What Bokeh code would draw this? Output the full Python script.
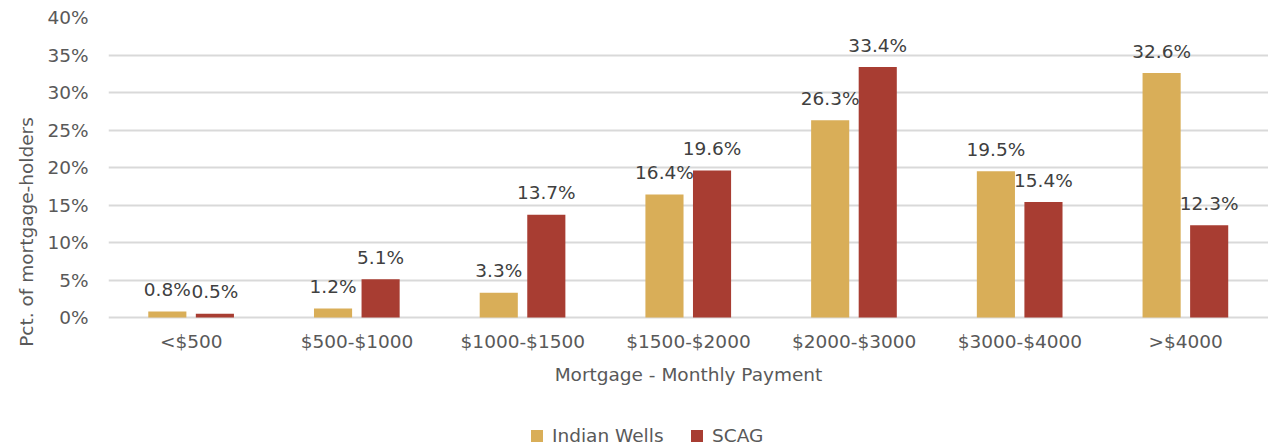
from bokeh.plotting import figure
from bokeh.models import ColumnDataSource, FactorRange, Range1d, FixedTicker, PrintfTickFormatter, Legend, LegendItem, Title
from bokeh.transform import dodge
from bokeh.core.properties import value
from bokeh.embed import file_html
from bokeh.resources import INLINE

categories = ["<$500", "$500-$1000", "$1000-$1500", "$1500-$2000", "$2000-$3000", "$3000-$4000", ">$4000"]
indian_wells = [0.8, 1.2, 3.3, 16.4, 26.3, 19.5, 32.6]
scag = [0.5, 5.1, 13.7, 19.6, 33.4, 15.4, 12.3]
y_ticks = [0, 5, 10, 15, 20, 25, 30, 35, 40]

FONT = "DejaVu Sans"
TXT = "#595959"
GOLD = "#D9AE58"
RED = "#A83D32"

src = ColumnDataSource(dict(
    cat=categories,
    iw=indian_wells,
    sc=scag,
    iw_lab=[f"{v:.1f}%" for v in indian_wells],
    sc_lab=[f"{v:.1f}%" for v in scag],
))

# frame runs to the bottom of the figure; the x axis sits at y=0 inside it
p = figure(width=1268, height=446, output_backend="svg", toolbar_location=None,
           x_range=FactorRange(*categories), y_range=Range1d(-17.2, 40),
           min_border_left=108, min_border_right=0, min_border_top=17, min_border_bottom=0)
p.outline_line_color = None
p.background_fill_color = "white"

r1 = p.vbar(x=dodge("cat", -0.145, range=p.x_range), top="iw", bottom=0, width=0.23, source=src,
            fill_color=GOLD, line_color=None)
r2 = p.vbar(x=dodge("cat", 0.142, range=p.x_range), top="sc", bottom=0, width=0.23, source=src,
            fill_color=RED, line_color=None)

p.text(x=dodge("cat", -0.145, range=p.x_range), y="iw", text="iw_lab", source=src,
       text_align="center", text_baseline="alphabetic", y_offset=-22,
       text_font=value(FONT), text_font_size="18.5px", text_color="#404040")
p.text(x=dodge("cat", 0.142, range=p.x_range), y="sc", text="sc_lab", source=src,
       text_align="center", text_baseline="alphabetic", y_offset=-22,
       text_font=value(FONT), text_font_size="18.5px", text_color="#404040")

p.xgrid.grid_line_color = None
p.ygrid.grid_line_color = "#d9d9d9"
p.ygrid.grid_line_width = 2
p.yaxis.ticker = FixedTicker(ticks=y_ticks)
p.yaxis.formatter = PrintfTickFormatter(format="%d%%")
p.yaxis.bounds = (0, 40)
p.xaxis.fixed_location = 0

for ax in (p.xaxis[0], p.yaxis[0]):
    ax.axis_line_color = None
    ax.major_tick_line_color = None
    ax.minor_tick_line_color = None
    ax.major_tick_out = 0
    ax.major_tick_in = 0
    ax.minor_tick_out = 0
    ax.minor_tick_in = 0
    ax.major_label_text_font = FONT
    ax.major_label_text_font_size = "18.5px"
    ax.major_label_text_color = TXT
    ax.axis_label_text_font = FONT
    ax.axis_label_text_font_size = "18.5px"
    ax.axis_label_text_font_style = "normal"
    ax.axis_label_text_color = TXT

p.yaxis.major_label_standoff = 20
p.xaxis.axis_label = "Mortgage - Monthly Payment"
p.xaxis.major_label_standoff = 13
p.xaxis.axis_label_standoff = 9

# y-axis title, shifted up to sit beside the 0-40% band
ytitle = Title(text="Pct. of mortgage-holders", align="center", offset=85, standoff=16,
               text_font=FONT, text_font_size="18.5px", text_font_style="normal",
               text_color=TXT)
p.add_layout(ytitle, "left")

legend = Legend(items=[LegendItem(label="Indian Wells", renderers=[r1]),
                       LegendItem(label="SCAG", renderers=[r2])],
                orientation="horizontal", location=(421, 0),
                glyph_width=15, glyph_height=15, label_standoff=8, spacing=1,
                label_width=136,
                padding=0, margin=0, border_line_color=None, background_fill_alpha=0,
                label_text_font=FONT, label_text_font_size="18.5px", label_text_color=TXT)
p.add_layout(legend, "center")

open("out.html", "w").write(file_html(p, INLINE))
